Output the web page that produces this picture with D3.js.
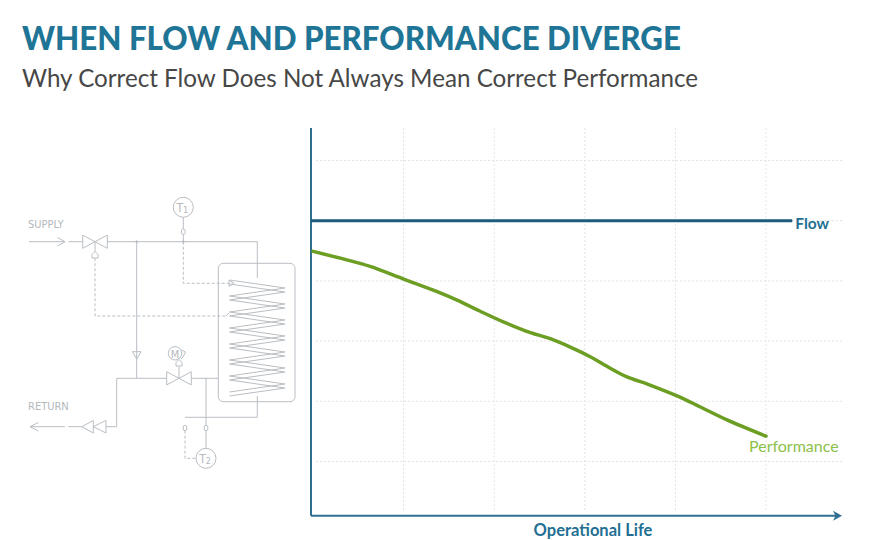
<!DOCTYPE html>
<html>
<head>
<meta charset="utf-8">
<script src="https://cdn.jsdelivr.net/npm/d3@7"></script>
<style>
body { margin: 0; background: #fff; }
svg { display: block; font-family: Lato, 'Open Sans', sans-serif; }
</style>
</head>
<body>
<svg id="chart" width="880" height="540"></svg>
<script>
// data (x = operational life, arbitrary units; y = index)
var lifeYears   = [0, 0.37, 0.63, 1.0, 1.37, 1.59, 1.84, 2.1, 2.4, 2.62, 2.84, 3.06, 3.28, 3.46, 3.72, 4.05, 4.27, 4.57, 5.0];
var performance = [4.49, 4.35, 4.24, 4.03, 3.82, 3.68, 3.5, 3.32, 3.14, 3.04, 2.9, 2.74, 2.55, 2.41, 2.27, 2.07, 1.91, 1.69, 1.42];
var flowYears   = [0, 5.29];
var flowValues  = [5, 5];
var xGridTicks  = [1, 2, 3, 4, 5];
var yGridTicks  = [1, 2, 3, 4, 5, 6];
var seriesNames = ['Flow', 'Performance'];
var titleText    = 'WHEN FLOW AND PERFORMANCE DIVERGE';
var subtitleText = 'Why Correct Flow Does Not Always Mean Correct Performance';
var xAxisTitle   = 'Operational Life';

var svg = d3.select('#chart');

var plotLeft = 311, plotTop = 128, plotBottom = 515.7, plotRight = 842;

var x = d3.scaleLinear().domain([0, 5]).range([313, 766]);
var y = d3.scaleLinear().domain([0, 6]).range([521.7, 160.5]);

// titles
svg.append('text')
    .attr('x', 22).attr('y', 50)
    .style('font-size', '31.3px').style('font-weight', 900)
    .style('fill', '#1f7596')
    .text(titleText);

svg.append('text')
    .attr('x', 22).attr('y', 87)
    .style('font-size', '24.2px').style('font-weight', 400)
    .style('fill', '#474747')
    .text(subtitleText);

// ---- schematic (decoration) ----
var sch = svg.append('g')
    .style('fill', 'none')
    .style('stroke', '#b9bec3')
    .style('stroke-width', 1);

var line = d3.line();
function seg(pts, dashed) {
    var p = sch.append('path').attr('d', line(pts));
    if (dashed) p.style('stroke-dasharray', '3,2');
    return p;
}
function bowtie(cx, cy, w, h) {
    seg([[cx - w, cy - h], [cx - w, cy + h], [cx, cy], [cx - w, cy - h]]);
    seg([[cx + w, cy - h], [cx + w, cy + h], [cx, cy], [cx + w, cy - h]]);
}
function actuator(cx, cy) {
    seg([[cx, cy - 3.5], [cx - 3, cy - 0.5], [cx - 3, cy + 3], [cx + 3, cy + 3], [cx + 3, cy - 0.5], [cx, cy - 3.5]]);
}
function capsule(cx, cy) {
    sch.append('rect').attr('x', cx - 1.8).attr('y', cy - 2.6).attr('width', 3.6).attr('height', 5.2).attr('rx', 1.6);
}
var narrow = "'Liberation Sans Narrow', 'DejaVu Sans Condensed', sans-serif";
function sensor(cx, cy, label) {
    sch.append('circle').attr('cx', cx).attr('cy', cy).attr('r', 10);
    var t = svg.append('text')
        .attr('x', cx - 1).attr('y', cy + 4.5)
        .attr('text-anchor', 'middle')
        .style('font-family', narrow)
        .style('font-size', '12px').style('fill', '#b3b8bd');
    t.append('tspan').text('T');
    t.append('tspan').style('font-size', '9px').attr('dy', 1).text(label);
}

svg.append('text').attr('x', 28).attr('y', 228)
    .style('font-family', narrow)
    .style('font-size', '11px').style('fill', '#b3b8bd').text('SUPPLY');
svg.append('text').attr('x', 28).attr('y', 410)
    .style('font-family', narrow)
    .style('font-size', '11px').style('fill', '#b3b8bd').text('RETURN');

// supply arrow + valve
seg([[29, 241.7], [65, 241.7]]);
seg([[57.5, 237.5], [65, 241.7], [57.5, 246]]);
seg([[68.5, 241.7], [82.7, 241.7]]);
bowtie(95, 241.7, 12.3, 6.6);
seg([[95, 241.7], [95, 251.5]]);
actuator(95, 255);
seg([[95, 258.3], [95, 316], [226, 316]], true);
seg([[226, 316], [229, 313]]);
// main supply pipe to coil
seg([[107.3, 241.7], [257.3, 241.7], [257.3, 278]]);
sch.append('circle').attr('cx', 136.7).attr('cy', 241.7).attr('r', 0.9).style('fill', '#b9bec3');
sch.append('circle').attr('cx', 183.3).attr('cy', 241.7).attr('r', 0.9).style('fill', '#b9bec3');
// T1
sensor(183.3, 207.3, '1');
seg([[183.3, 217.3], [183.3, 229]]);
capsule(183.3, 231.7);
seg([[183.3, 234.3], [183.3, 241.7]]);
seg([[183.3, 241.7], [183.3, 283.3], [229, 283.3]], true);
seg([[229, 280.3], [234, 283.3], [229, 286.3], [229, 280.3]]);
// bypass
seg([[136.7, 241.7], [136.7, 378.3]]);
seg([[132.5, 351.7], [141, 351.7], [136.7, 359], [132.5, 351.7]]);
// return pipe + motor valve
seg([[106, 426.7], [116.7, 426.7], [116.7, 378.3], [166.7, 378.3]]);
bowtie(179, 378.3, 12.3, 6.6);
seg([[191.7, 378.3], [218.3, 378.3]]);
seg([[179, 378.3], [179, 366.5]]);
actuator(179, 363);
sch.append('circle').attr('cx', 175).attr('cy', 353.3).attr('r', 6.7);
seg([[181.7, 350], [185.5, 352], [183, 357], [181, 359]]);
svg.append('text').attr('x', 175).attr('y', 357.5).attr('text-anchor', 'middle')
    .style('font-family', narrow)
    .style('font-size', '11px').style('fill', '#b3b8bd').text('M');
// return check valves + arrow
seg([[93.3, 420.5], [93.3, 433], [81.7, 426.7], [93.3, 420.5]]);
seg([[106, 420.5], [106, 433], [93.3, 426.7], [106, 420.5]]);
seg([[68.3, 426.7], [81.7, 426.7]]);
seg([[30, 426.7], [65, 426.7]]);
seg([[38.3, 422.5], [30, 426.7], [38.3, 431]]);
// tank + coil
sch.append('rect').attr('x', 218.3).attr('y', 263.3).attr('width', 76.7).attr('height', 138.4).attr('rx', 5);
var coilA = [], coilB = [];
for (var k = 0; k < 7; k++) {
    coilA.push([229.5, 280 + k * 16], [285, 288 + k * 16]);
    coilB.push([229.5, 284 + k * 16], [285, 292 + k * 16]);
}
coilA.push([229.5, 392]);
coilB.push([229.5, 396]);
seg(coilA);
seg(coilB);
seg([[257.3, 396], [257.3, 417.3], [185, 417.3]]);
seg([[206, 378.3], [206, 425.4]]);
capsule(206, 428);
seg([[206, 430.6], [206, 448.3]]);
capsule(185, 428);
seg([[185, 430.6], [185, 458.3], [196, 458.3]], true);
sensor(206, 458.3, '2');

// ---- chart ----
var grid = svg.append('g')
    .style('stroke', '#e1e4e7')
    .style('stroke-width', 1)
    .style('stroke-dasharray', '2,2');

grid.selectAll('.vgrid').data(xGridTicks).enter().append('line')
    .attr('x1', function(d) { return x(d); })
    .attr('x2', function(d) { return x(d); })
    .attr('y1', plotTop)
    .attr('y2', plotBottom - 4);

grid.selectAll('.hgrid').data(yGridTicks).enter().append('line')
    .attr('x1', plotLeft + 5)
    .attr('x2', plotRight)
    .attr('y1', function(d) { return y(d); })
    .attr('y2', function(d) { return y(d); });

// axes
var axisColor = '#2f6f92';
svg.append('line')
    .attr('x1', plotLeft).attr('x2', plotLeft)
    .attr('y1', plotTop).attr('y2', plotBottom)
    .style('stroke', axisColor).style('stroke-width', 2);

svg.append('line')
    .attr('x1', plotLeft).attr('x2', plotRight - 3)
    .attr('y1', plotBottom).attr('y2', plotBottom)
    .style('stroke', axisColor).style('stroke-width', 2);

svg.append('path')
    .attr('d', 'M' + (plotRight - 9) + ',' + (plotBottom - 5) + 'L' + plotRight + ',' + plotBottom +
               'L' + (plotRight - 9) + ',' + (plotBottom + 5) + 'L' + (plotRight - 6.5) + ',' + plotBottom + 'Z')
    .style('fill', axisColor);

svg.append('text')
    .attr('x', 593).attr('y', 536)
    .attr('text-anchor', 'middle')
    .style('font-size', '16.5px').style('font-weight', 700)
    .style('fill', '#236f93')
    .text(xAxisTitle);

// series
var flowLine = d3.line()
    .x(function(d) { return x(d); })
    .y(function(d, i) { return y(flowValues[i]); });

svg.append('path')
    .datum(flowYears)
    .attr('d', function(d) { return 'M' + plotLeft + ',' + y(flowValues[0]) + flowLine(d).replace('M', 'L'); })
    .style('fill', 'none')
    .style('stroke', '#1d5b7d')
    .style('stroke-width', 3);

var perfLine = d3.line()
    .x(function(d) { return x(d); })
    .y(function(d, i) { return y(performance[i]); })
    .curve(d3.curveCatmullRom);

svg.append('path')
    .datum(lifeYears)
    .attr('d', perfLine)
    .style('fill', 'none')
    .style('stroke', '#6b9e22')
    .style('stroke-width', 3.5)
    .style('stroke-linecap', 'round');

var nF = flowYears.length - 1;
svg.append('text')
    .attr('x', x(flowYears[nF]) + 3)
    .attr('y', y(flowValues[nF]) + 8)
    .style('font-size', '15.5px').style('font-weight', 700)
    .style('fill', '#236f93')
    .text(seriesNames[0]);

var nP = lifeYears.length - 1;
svg.append('text')
    .attr('x', x(lifeYears[nP]) - 17)
    .attr('y', y(performance[nP]) + 16)
    .style('font-size', '16px').style('font-weight', 400)
    .style('fill', '#8cc04a')
    .text(seriesNames[1]);
</script>
</body>
</html>
